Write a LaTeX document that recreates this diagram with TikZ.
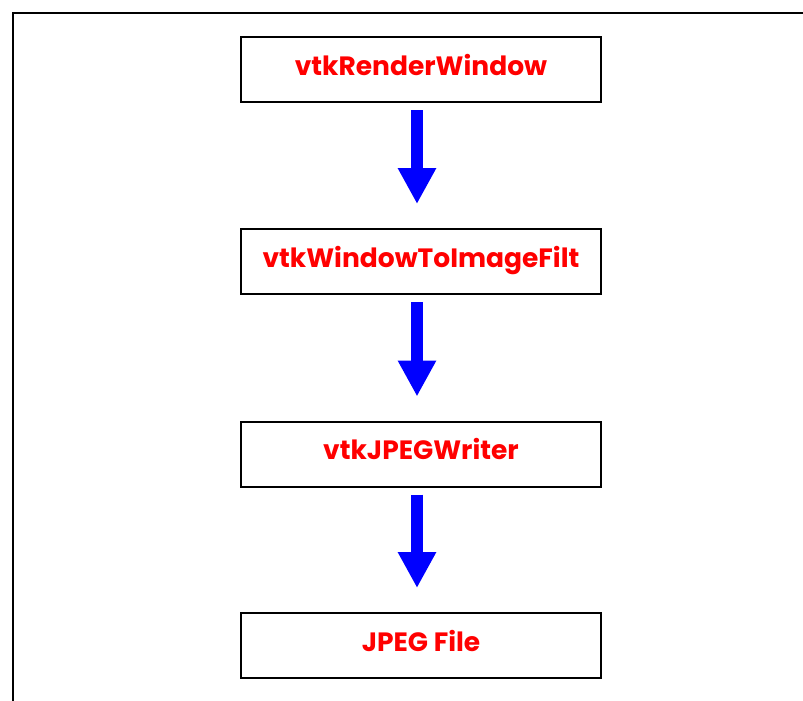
\documentclass[tikz,border=0pt]{standalone}
\usepackage{fontspec}
\setmainfont{Poppins}
\usetikzlibrary{arrows.meta}
\definecolor{boxred}{RGB}{255,0,0}
\definecolor{arrblue}{RGB}{0,0,255}
\tikzset{
  stagebox/.style={draw=black, line width=2pt, minimum width=360pt, minimum height=65pt,
    inner sep=0pt, text height=15pt, text depth=4pt,
    font=\fontsize{26.5}{30}\selectfont\bfseries, text=boxred, fill=white},
  flowarrow/.style={draw=arrblue, line width=12pt, -{Triangle[width=36pt,length=36pt]},
    shorten <=7pt, shorten >=24pt}
}
\begin{document}
\begin{tikzpicture}[x=1pt,y=1pt]
\useasboundingbox (0,0) rectangle (803,-701);
\fill[white] (0,0) rectangle (803,-701);
\draw[line width=2pt] (13,-701) -- (13,-13) -- (803,-13);
\node[stagebox] (a) at (421,-69.5) {vtkRenderWindow};
\node[stagebox] (b) at (421,-261.5) {vtkWindowToImageFilt};
\node[stagebox] (c) at (421,-454) {vtkJPEGWriter};
\node[stagebox] (d) at (421,-645.5) {JPEG File};
\draw[flowarrow] ([xshift=-4pt]a.south) -- ([xshift=-4pt]b.north);
\draw[flowarrow] ([xshift=-4pt]b.south) -- ([xshift=-4pt]c.north);
\draw[flowarrow] ([xshift=-4pt]c.south) -- ([xshift=-4pt]d.north);
\end{tikzpicture}
\end{document}
